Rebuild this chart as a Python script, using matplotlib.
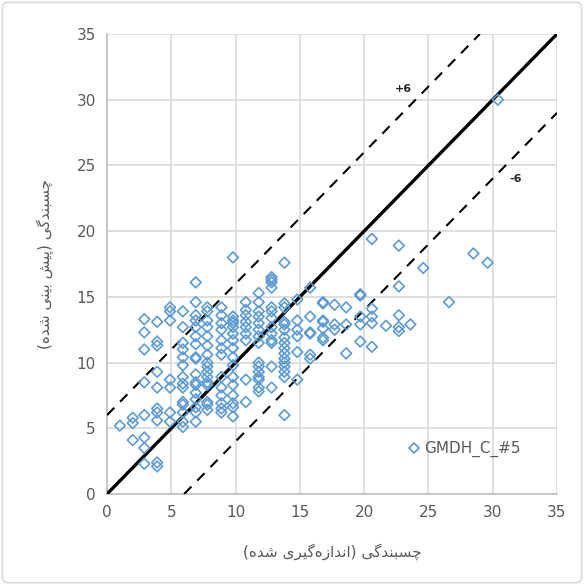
import matplotlib
matplotlib.use("Agg")
import matplotlib.pyplot as plt
from matplotlib.lines import Line2D
from matplotlib.patches import FancyBboxPatch

# ---------------- data ----------------
measured_levels = [1.0, 2.0, 2.9, 3.9, 4.9, 5.9, 6.9, 7.8, 8.9, 9.8, 10.8, 11.8,
                   12.8, 13.8, 14.8, 15.8, 16.8, 17.7, 18.6, 19.7, 20.6, 21.7,
                   22.7, 23.6, 24.6, 26.6, 28.5, 29.6, 30.4]
predicted_groups = [
    [5.2],
    [5.8, 5.4, 4.1],
    [13.3, 12.3, 11.0, 8.5, 6.0, 4.3, 3.5, 2.3],
    [13.1, 11.6, 11.3, 9.3, 8.1, 6.5, 6.2, 5.6, 2.4, 2.1],
    [14.2, 13.9, 13.2, 8.7, 8.1, 6.2, 5.5],
    [13.9, 12.7, 11.5, 11.0, 10.4, 9.8, 8.9, 8.4, 8.1, 7.0, 6.8, 6.2, 5.5, 5.1],
    [16.1, 14.6, 13.6, 13.2, 12.7, 12.0, 11.4, 10.4, 10.3, 9.1, 8.5, 8.3, 7.7, 7.2, 6.6, 6.2, 5.5],
    [14.2, 13.9, 13.2, 12.7, 12.0, 11.3, 10.6, 10.0, 9.7, 9.3, 8.9, 8.5, 8.3, 7.0, 6.8, 6.4],
    [14.2, 13.6, 13.0, 12.5, 11.7, 11.1, 10.6, 8.9, 8.1, 7.5, 6.9, 6.5, 6.2],
    [18.0, 13.5, 13.2, 13.0, 12.7, 12.2, 11.7, 11.1, 10.4, 9.8, 8.9, 8.3, 7.5, 6.9, 6.6, 5.9],
    [14.6, 14.0, 13.6, 13.1, 12.7, 12.2, 11.7, 8.7, 7.0],
    [15.3, 14.6, 13.9, 13.5, 13.0, 12.5, 12.0, 11.5, 10.0, 9.7, 9.3, 8.9, 8.7, 8.1, 7.8],
    [16.5, 16.3, 16.1, 15.7, 14.2, 13.9, 13.4, 12.7, 12.2, 11.7, 11.5, 9.7, 8.1],
    [17.6, 14.5, 14.2, 13.1, 12.9, 12.5, 11.9, 11.5, 11.1, 10.7, 10.3, 10.0, 9.7, 9.3, 8.9, 6.0],
    [14.8, 13.2, 12.5, 12.0, 10.8, 8.7],
    [15.7, 13.5, 12.3, 12.2, 10.6, 10.3],
    [14.6, 14.5, 13.2, 13.1, 12.6, 11.9, 11.7],
    [14.4, 12.9, 12.5],
    [14.2, 12.9, 10.7],
    [15.2, 15.1, 13.5, 12.9, 11.6],
    [19.4, 14.1, 13.5, 13.0, 11.2],
    [12.8],
    [18.9, 15.8, 13.6, 12.7, 12.4],
    [12.9],
    [17.2],
    [14.6],
    [18.3],
    [17.6],
    [30.0],
]
series_name = "GMDH_C_#5"
band = 6
axis_max = 35
ticks = [0, 5, 10, 15, 20, 25, 30, 35]
xlabel_fa = "چسبندگی (اندازه‌گیری شده)"
ylabel_fa = "چسبندگی (پیش بینی شده)"

measured = [x for x, g in zip(measured_levels, predicted_groups) for _ in g]
predicted = [y for g in predicted_groups for y in g]

# ---------------- simple Persian shaping ----------------
FORMS = {  # isolated, final, initial, medial
    'ا': ('\uFE8D', '\uFE8E', None, None),
    'ب': ('\uFE8F', '\uFE90', '\uFE91', '\uFE92'),
    'پ': ('\uFB56', '\uFB57', '\uFB58', '\uFB59'),
    'چ': ('\uFB7A', '\uFB7B', '\uFB7C', '\uFB7D'),
    'د': ('\uFEA9', '\uFEAA', None, None),
    'ر': ('\uFEAD', '\uFEAE', None, None),
    'ز': ('\uFEAF', '\uFEB0', None, None),
    'س': ('\uFEB1', '\uFEB2', '\uFEB3', '\uFEB4'),
    'ش': ('\uFEB5', '\uFEB6', '\uFEB7', '\uFEB8'),
    'ن': ('\uFEE5', '\uFEE6', '\uFEE7', '\uFEE8'),
    'ه': ('\uFEE9', '\uFEEA', '\uFEEB', '\uFEEC'),
    'گ': ('\uFB92', '\uFB93', '\uFB94', '\uFB95'),
    'ی': ('\uFBFC', '\uFBFD', '\uFBFE', '\uFBFF'),
}


def shape(text):
    out = []
    n = len(text)
    for i, c in enumerate(text):
        if c not in FORMS:
            if c == '\u200c':
                continue
            out.append({'(': ')', ')': '('}.get(c, c))
            continue
        prev = text[i - 1] if i > 0 else ''
        nxt = text[i + 1] if i + 1 < n else ''
        pj = prev in FORMS and FORMS[prev][2] is not None
        nj = FORMS[c][2] is not None and nxt in FORMS
        iso, fin, ini, med = FORMS[c]
        if pj and nj:
            f = med
        elif pj:
            f = fin
        elif nj:
            f = ini
        else:
            f = iso
        out.append(f)
    return ''.join(out[::-1])


# ---------------- plot ----------------
fig = plt.figure(figsize=(5.84, 5.85), dpi=100)
ax = fig.add_axes([107 / 584, 1 - 494 / 585, 450 / 584, 460 / 585])

grid_c = '#d9d9d9'
tick_c = '#595959'
blue = '#5b9bd5'

ax.set_xlim(0, axis_max)
ax.set_ylim(0, axis_max)
ax.set_xticks(ticks)
ax.set_yticks(ticks)
ax.grid(True, color=grid_c, linewidth=1.2, zorder=0)
ax.set_axisbelow(True)
for s in ['top', 'right']:
    ax.spines[s].set_visible(False)
for s in ['left', 'bottom']:
    ax.spines[s].set_color('#bfbfbf')
    ax.spines[s].set_linewidth(1.2)
ax.tick_params(length=0, labelsize=11, colors=tick_c, pad=8)

ax.plot([0, axis_max], [0, axis_max], color='black', lw=2.4, zorder=3)
ax.plot([0, axis_max - band], [band, axis_max], color='black', lw=1.5,
        dashes=(5, 4), zorder=3)
ax.plot([band, axis_max], [0, axis_max - band], color='black', lw=1.5,
        dashes=(5, 4), zorder=3)

ax.scatter(measured, predicted, marker='D', s=30, facecolors='none',
           edgecolors=blue, linewidths=1.2, zorder=4, clip_on=False)

ax.text(22.4, 30.8, '+6', fontsize=8, fontweight='bold', color='#262626',
        ha='left', va='center')
ax.text(31.3, 24.0, '-6', fontsize=8, fontweight='bold', color='#262626',
        ha='left', va='center')

handle = Line2D([], [], marker='D', linestyle='none', markersize=5,
                markerfacecolor='none', markeredgecolor=blue, markeredgewidth=1.2)
ax.legend([handle], [series_name], loc='lower right', frameon=False,
          fontsize=11, labelcolor=tick_c, handletextpad=0.2,
          bbox_to_anchor=(0.95, 0.05), handlelength=1.0)

ax.set_xlabel(shape(xlabel_fa), fontsize=11, color=tick_c, labelpad=17,
              family=['DejaVu Sans'])
ax.set_ylabel(shape(ylabel_fa), fontsize=11, color=tick_c, labelpad=16,
              family=['DejaVu Sans'])

border = FancyBboxPatch((0.004, 0.004), 0.992, 0.992,
                        boxstyle='round,pad=0,rounding_size=0.01',
                        transform=fig.transFigure, fill=False,
                        edgecolor='#d9d9d9', lw=1.2)
fig.patches.append(border)

fig.savefig('out.png', dpi=100)
